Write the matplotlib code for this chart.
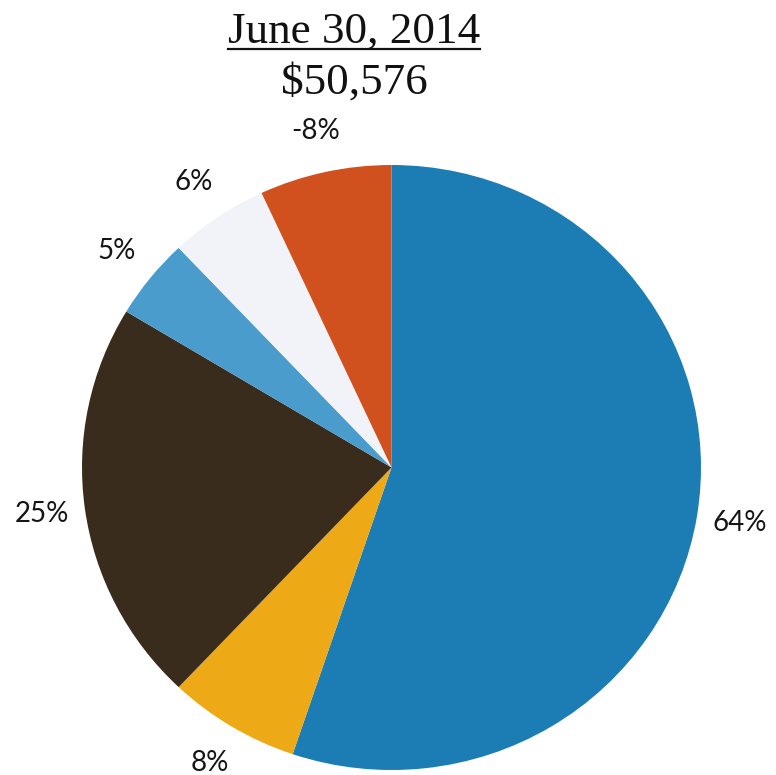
import matplotlib
matplotlib.use("Agg")
import matplotlib.pyplot as plt
from matplotlib.lines import Line2D

# Portfolio allocation as of the report date
title_date = "June 30, 2014"
title_total = "$50,576"
shares = [64, 8, 25, 5, 6, -8]          # percent of total (signed)
labels = [f"{v}%" for v in shares]
colors = ["#1b7db4", "#eeaa16", "#3a2c1c", "#4a9ccd", "#f1f3f8", "#d0511d"]

W, H, DPI = 776, 775, 100
fig = plt.figure(figsize=(W / DPI, H / DPI), dpi=DPI)
fig.patch.set_facecolor("white")

# Axes spanning the pie's bounding box (slightly wider than tall)
left_px, right_px, top_px, bottom_px = 82, 701, 165, 770
ax = fig.add_axes([left_px / W, (H - bottom_px) / H,
                   (right_px - left_px) / W, (bottom_px - top_px) / H])

wedges, texts = ax.pie(
    [abs(v) for v in shares],
    labels=labels,
    colors=colors,
    startangle=90,
    counterclock=False,
    labeldistance=1.14,
    wedgeprops=dict(linewidth=0),
    textprops=dict(fontsize=20, family=["Lato", "DejaVu Sans"], color="#151515"),
)
for t in texts:
    t.set_ha("center")
    t.set_va("center")

ax.set_aspect("auto")
ax.set_xlim(-1, 1)
ax.set_ylim(-1, 1)
ax.axis("off")

# Two-line title, the date underlined
cx = 354 / W
serif = ["Liberation Serif", "DejaVu Serif"]
t1 = fig.text(cx, (H - 43) / H, title_date, ha="center", va="baseline",
              fontsize=32.5, family=serif, color="#111111")
fig.text(cx, (H - 94) / H, title_total, ha="center", va="baseline",
         fontsize=32.5, family=serif, color="#111111")

fig.canvas.draw()
bb = t1.get_window_extent(renderer=fig.canvas.get_renderer())
uy = (H - 49) / H
fig.add_artist(Line2D([bb.x0 / W, bb.x1 / W], [uy, uy],
                      transform=fig.transFigure, color="#111111", linewidth=1.6))

fig.savefig("out.png", dpi=DPI, facecolor="white")
